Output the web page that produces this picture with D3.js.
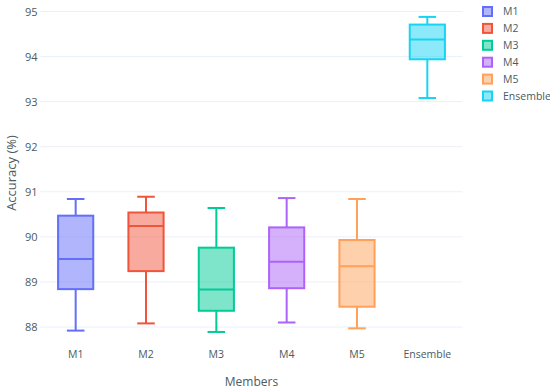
<!DOCTYPE html>
<html>
<head>
<meta charset="utf-8" />
<title>Accuracy by member</title>
<script src="https://d3js.org/d3.v7.min.js"></script>
<style>
  body { margin: 0; background: #fff; }
  text { font-family: "Open Sans", sans-serif; fill: #4b5b63; }
</style>
</head>
<body>
<svg id="chart" width="550" height="391"></svg>
<script>
var members = ["M1", "M2", "M3", "M4", "M5", "Ensemble"];
var colors = ["#636efa", "#ef553b", "#00cc96", "#ab63fa", "#ffa15a", "#19d3f3"];
// box stats
var lowWhisker = [87.92, 88.08, 87.89, 88.10, 87.97, 93.08];
var q1 = [88.84, 89.24, 88.36, 88.86, 88.45, 93.94];
var median = [89.51, 90.24, 88.83, 89.45, 89.35, 94.38];
var q3 = [90.47, 90.54, 89.76, 90.21, 89.93, 94.71];
var highWhisker = [90.84, 90.89, 90.64, 90.86, 90.84, 94.88];
var yTicks = [88, 89, 90, 91, 92, 93, 94, 95];

var svg = d3.select("#chart");
var plotLeft = 40.5, plotRight = 462.5, plotTop = 11.5, plotBottom = 327;

var x = d3.scaleBand().domain(members).range([plotLeft, plotRight]).padding(0);
var y = d3.scaleLinear().domain([88, 95]).range([plotBottom, plotTop]);

// grid
svg.append("g").selectAll("line").data(yTicks).enter().append("line")
  .attr("x1", plotLeft).attr("x2", plotRight)
  .attr("y1", function(d){ return y(d); }).attr("y2", function(d){ return y(d); })
  .attr("stroke", "#ebf0f8").attr("stroke-width", 1);

// y axis labels
var yAxis = d3.axisLeft(y).tickValues(yTicks).tickFormat(d3.format("d")).tickSize(0).tickPadding(3);
var ya = svg.append("g").attr("transform", "translate(" + plotLeft + ",0)").call(yAxis);
ya.select(".domain").remove();
ya.selectAll("text").style("font-size", "11px").attr("fill", "#4b5b63").attr("font-family", "Open Sans");

// x axis labels
var xAxis = d3.axisBottom(x).tickSize(0).tickPadding(0);
var xa = svg.append("g").attr("transform", "translate(0,351)").call(xAxis);
xa.select(".domain").remove();
xa.selectAll("text").style("font-size", "10.5px").attr("fill", "#4b5b63").attr("font-family", "Open Sans");

svg.append("text").attr("x", (plotLeft + plotRight) / 2).attr("y", 386)
  .attr("text-anchor", "middle").style("font-size", "12px").text("Members");
svg.append("text").attr("transform", "translate(16,173) rotate(-90)")
  .attr("text-anchor", "middle").style("font-size", "13px").text("Accuracy (%)");

// boxes
var bw = x.bandwidth() * 0.5;
var ww = bw * 0.5;
members.forEach(function(m, i) {
  var cx = x(m) + x.bandwidth() / 2;
  var g = svg.append("g").attr("stroke", colors[i]).attr("stroke-width", 2);
  g.append("line").attr("x1", cx).attr("x2", cx).attr("y1", y(highWhisker[i])).attr("y2", y(q3[i]));
  g.append("line").attr("x1", cx).attr("x2", cx).attr("y1", y(q1[i])).attr("y2", y(lowWhisker[i]));
  g.append("line").attr("x1", cx - ww / 2).attr("x2", cx + ww / 2).attr("y1", y(highWhisker[i])).attr("y2", y(highWhisker[i]));
  g.append("line").attr("x1", cx - ww / 2).attr("x2", cx + ww / 2).attr("y1", y(lowWhisker[i])).attr("y2", y(lowWhisker[i]));
  g.append("rect").attr("x", cx - bw / 2).attr("width", bw)
    .attr("y", y(q3[i])).attr("height", y(q1[i]) - y(q3[i]))
    .attr("fill", colors[i]).attr("fill-opacity", 0.5);
  g.append("line").attr("x1", cx - bw / 2).attr("x2", cx + bw / 2).attr("y1", y(median[i])).attr("y2", y(median[i]));
});

// legend
var lg = svg.append("g").attr("transform", "translate(483,0)");
members.forEach(function(m, i) {
  var ry = 11.5 + i * 16.9;
  lg.append("rect").attr("x", 0).attr("y", ry - 4.5).attr("width", 9).attr("height", 9)
    .attr("fill", colors[i]).attr("fill-opacity", 0.5).attr("stroke", colors[i]).attr("stroke-width", 2);
  lg.append("text").attr("x", 20).attr("y", ry).attr("dy", "0.35em").style("font-size", "10.5px").text(m);
});
</script>
</body>
</html>
